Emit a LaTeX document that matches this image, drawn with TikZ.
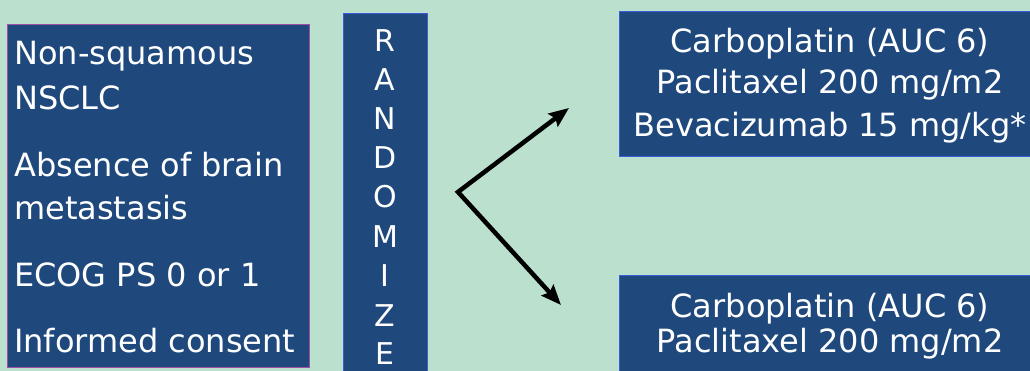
\documentclass[tikz,border=0pt]{standalone}
\usepackage{fontspec}
\setmainfont{DejaVu Sans}
\usetikzlibrary{arrows.meta}
\definecolor{bgmint}{RGB}{187,224,206}
\definecolor{boxblue}{RGB}{31,73,125}
\definecolor{edgepurple}{RGB}{160,80,160}
\definecolor{edgeblue}{RGB}{60,90,220}
\tikzset{
  panel/.style={fill=boxblue, line width=0.8pt, anchor=north west, inner sep=0pt},
  txt/.style={text=white, font=\fontsize{32}{36}\selectfont, inner sep=0pt},
  letter/.style={text=white, font=\fontsize{30}{34}\selectfont, inner sep=0pt, anchor=base},
  arms/.style={line width=4.5pt, line join=miter,
    {Stealth[length=20pt,width=16pt,inset=3pt]}-{Stealth[length=20pt,width=16pt,inset=3pt]}}
}
\begin{document}
\begin{tikzpicture}[x=1pt,y=-1pt]
\useasboundingbox (0,0) rectangle (1030,371);
\clip (0,0) rectangle (1030,371);
\fill[bgmint] (0,0) rectangle (1030,371);
% boxes
\node[panel, draw=edgepurple, minimum width=302pt, minimum height=343pt] (elig) at (7,24) {};
\node[panel, draw=edgeblue, minimum width=84pt, minimum height=380pt] (rand) at (343,13) {};
\node[panel, draw=edgeblue, minimum width=440pt, minimum height=145pt] (armA) at (619,11) {};
\node[panel, draw=edgeblue, minimum width=440pt, minimum height=120pt] (armB) at (619,275) {};
% left texts
\node[txt, anchor=base west] (e1) at (14,65) {Non-squamous};
\node[txt, anchor=base west] (e2) at (14,110) {NSCLC};
\node[txt, anchor=base west] (e3) at (14,177) {Absence of brain};
\node[txt, anchor=base west] (e4) at (14,220) {metastasis};
\node[txt, anchor=base west] (e5) at (14,287) {ECOG PS 0 or 1};
\node[txt, anchor=base west] (e6) at (14,352) {Informed consent};
% randomize letters
\node[letter] (r1) at (385,52) {R};
\node[letter] (r2) at (385,91) {A};
\node[letter] (r3) at (385,130) {N};
\node[letter] (r4) at (385,169) {D};
\node[letter] (r5) at (385,208) {O};
\node[letter] (r6) at (385,248) {M};
\node[letter] (r7) at (385,287) {I};
\node[letter] (r8) at (385,326) {Z};
\node[letter] (r9) at (385,364) {E};
% right texts
\node[txt, anchor=base] (a1) at (830,53) {Carboplatin (AUC 6)};
\node[txt, anchor=base] (a2) at (830,94) {Paclitaxel 200 mg/m2};
\node[txt, anchor=base] (a3) at (830,137) {Bevacizumab 15 mg/kg*};
\node[txt, anchor=base] (b1) at (830,317) {Carboplatin (AUC 6)};
\node[txt, anchor=base] (b2) at (830,352) {Paclitaxel 200 mg/m2};
% arrows
\coordinate (v) at (458,192);
\coordinate (tA) at (569,108);
\coordinate (tB) at (561,305);
\draw[arms] (tA) -- (v) -- (tB);
\end{tikzpicture}
\end{document}
